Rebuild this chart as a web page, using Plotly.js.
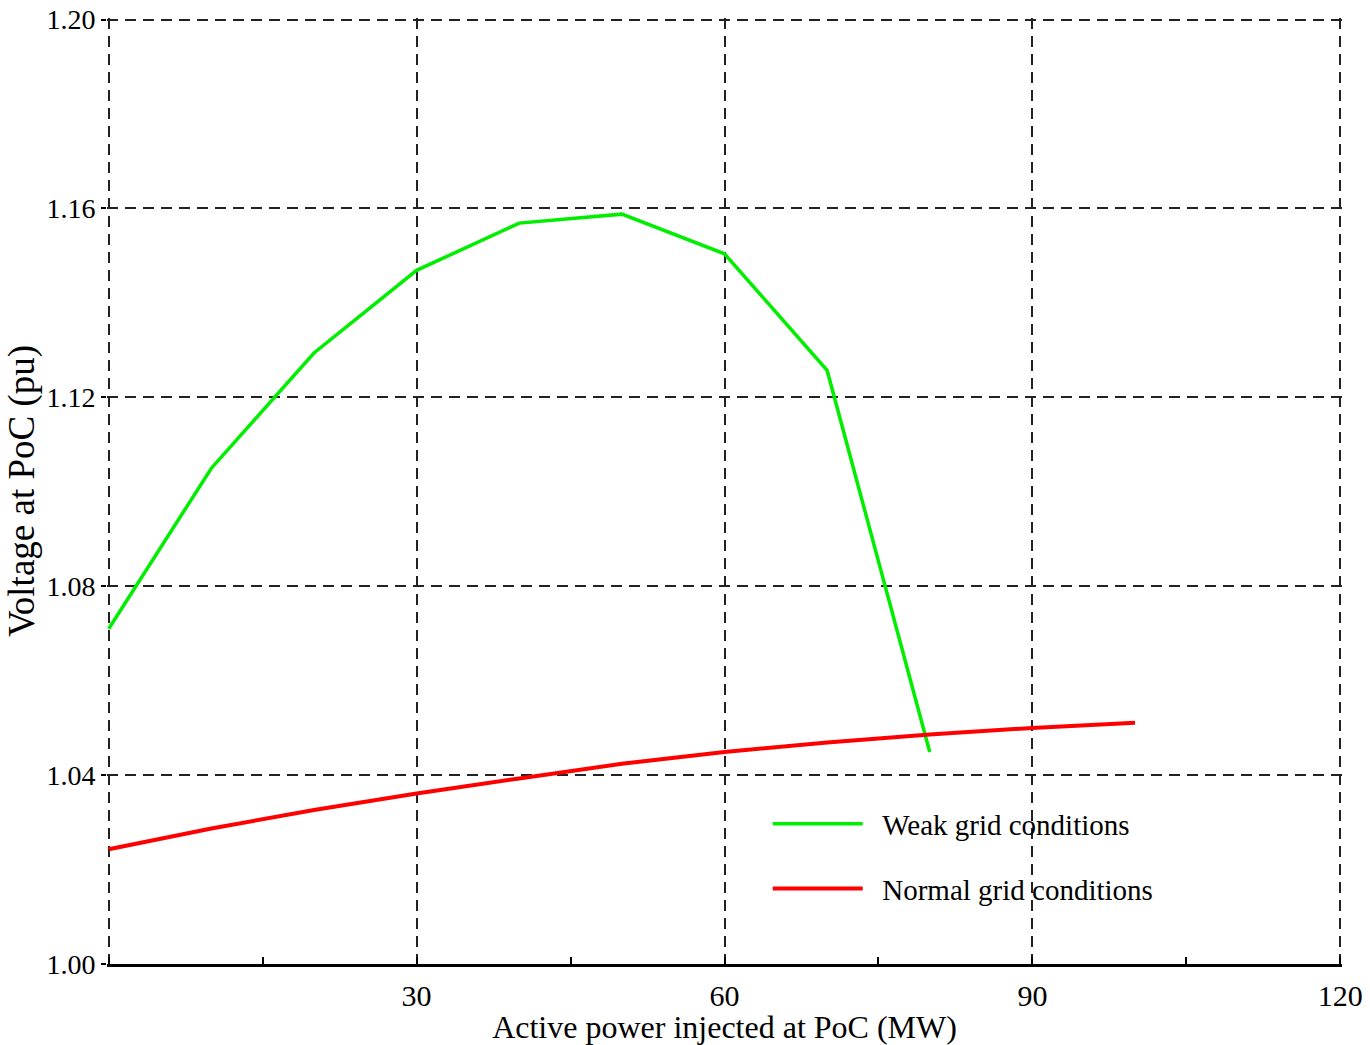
<!DOCTYPE html>
<html>
<head>
<meta charset="utf-8">
<script src="https://cdn.plot.ly/plotly-3.0.1.min.js"></script>
<style>html,body{margin:0;padding:0;background:#fff;}#chart{width:1370px;height:1045px;}</style>
</head>
<body>
<div id="chart"></div>
<script>
// Data
const weakPower = [0, 10, 20, 30, 40, 50, 60, 70, 80];
const weakVoltage = [1.0710, 1.1050, 1.1294, 1.1469, 1.1569, 1.1588, 1.1504, 1.1257, 1.0449];
const normalPower = [0, 10, 20, 30, 40, 50, 60, 70, 80, 90, 100];
const normalVoltage = [1.0243, 1.0287, 1.0326, 1.0361, 1.0393, 1.0424, 1.0449, 1.0469, 1.0486, 1.0500, 1.0511];
const seriesNames = ['Weak grid conditions', 'Normal grid conditions'];
const xTickVals = [0, 30, 60, 90, 120];
const xTickText = ['', '30', '60', '90', '120'];
const xMinorTicks = [15, 45, 75, 105];
const yTickVals = [1.00, 1.04, 1.08, 1.12, 1.16, 1.20];
const yTickText = ['1.00', '1.04', '1.08', '1.12', '1.16', '1.20'];

const FONT = '"Liberation Serif", "Times New Roman", serif';
const GAP = '\u2002';

const traces = [
  {
    x: weakPower, y: weakVoltage, name: GAP + seriesNames[0], type: 'scatter', mode: 'lines',
    line: {color: '#00ee00', width: 3.5}, legendgroup: 'a'
  },
  {
    x: normalPower, y: normalVoltage, name: GAP + seriesNames[1], type: 'scatter', mode: 'lines',
    line: {color: '#ff0000', width: 4}, legendgroup: 'b'
  }
];

const layout = {
  width: 1370, height: 1045,
  margin: {l: 107, r: 28, t: 18, b: 81},
  paper_bgcolor: '#ffffff', plot_bgcolor: '#ffffff',
  font: {family: FONT, color: '#000000', size: 29},
  showlegend: true,
  legend: {
    x: 0.535, y: 0.175, xanchor: 'left', yanchor: 'top',
    bgcolor: 'rgba(0,0,0,0)', borderwidth: 0,
    font: {family: FONT, size: 29, color: '#000'},
    itemwidth: 90, traceorder: 'grouped', tracegroupgap: 24
  },
  xaxis: {
    range: [-0.17, 120.17], autorange: false,
    tickmode: 'array', tickvals: xTickVals, ticktext: xTickText,
    ticks: 'inside', ticklen: 7, tickwidth: 2, tickcolor: '#000',
    tickfont: {family: FONT, size: 30, color: '#000'},
    ticklabelstandoff: 3,
    showline: true, linecolor: '#000', linewidth: 2.5,
    showgrid: true, gridcolor: '#222', gridwidth: 2, griddash: '11px,7px',
    zeroline: false,
    minor: {tickmode: 'array', tickvals: xMinorTicks, ticks: 'inside', ticklen: 7, tickwidth: 2, tickcolor: '#000', showgrid: false},
    title: {text: 'Active power injected at PoC (MW)', font: {family: FONT, size: 32, color: '#000'}, standoff: 0}
  },
  yaxis: {
    range: [1.0, 1.20034], autorange: false,
    tickmode: 'array', tickvals: yTickVals, ticktext: yTickText,
    ticks: 'outside', ticklen: 5, tickwidth: 2, tickcolor: '#000',
    tickfont: {family: FONT, size: 28, color: '#000'},
    showline: false,
    showgrid: true, gridcolor: '#222', gridwidth: 2, griddash: '11px,7px',
    zeroline: false,
    title: {text: 'Voltage at PoC (pu)', font: {family: FONT, size: 37, color: '#000'}, standoff: 0}
  }
};

Plotly.newPlot('chart', traces, layout, {displayModeBar: false, staticPlot: true});
</script>
</body>
</html>
